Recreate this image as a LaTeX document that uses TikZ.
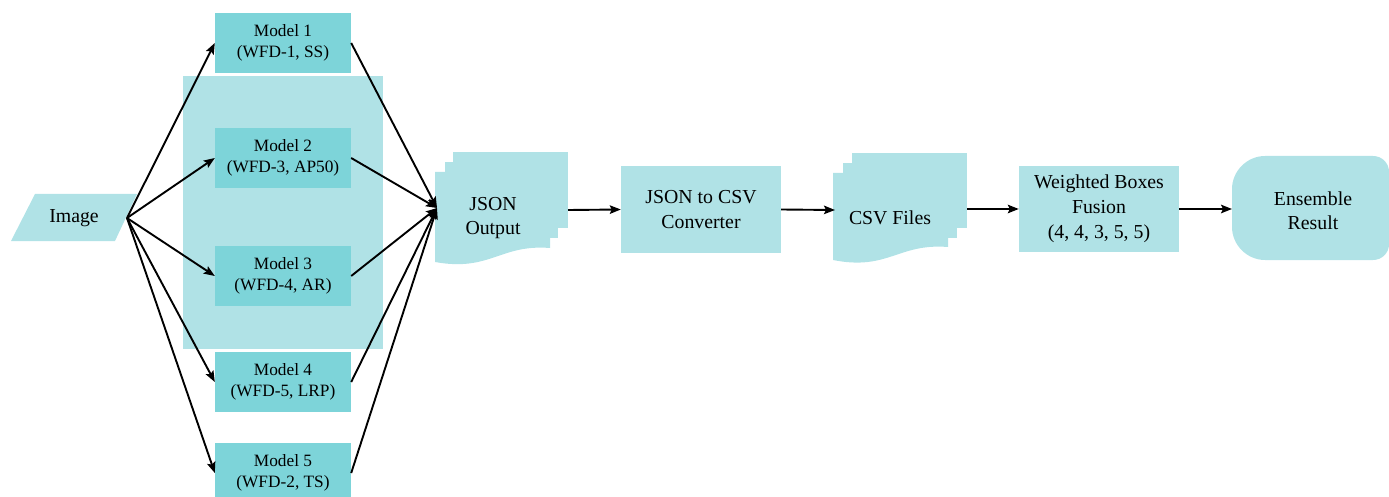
\documentclass[tikz,border=0pt]{standalone}
\usepackage{fontspec}
\setmainfont{LiberationSerif}[Extension=.ttf, UprightFont=*-Regular, BoldFont=*-Bold, ItalicFont=*-Italic, BoldItalicFont=*-BoldItalic]
\usetikzlibrary{arrows.meta}
\definecolor{lightteal}{RGB}{176,226,230}
\definecolor{modelteal}{RGB}{125,212,217}
\tikzset{
  modelbox/.style={fill=modelteal, minimum width=136pt, minimum height=60pt, inner sep=0pt, align=center,
    font=\fontsize{17.3pt}{21pt}\selectfont},
  procbox/.style={fill=lightteal, minimum width=160pt, minimum height=87pt, inner sep=0pt, align=center,
    font=\fontsize{19.8pt}{25pt}\selectfont},
  label/.style={inner sep=0pt, align=center, font=\fontsize{19.8pt}{24pt}\selectfont},
  conn/.style={line width=1.9pt, -{Stealth[length=11pt,width=8.5pt,inset=2pt]}},
}
\begin{document}
\begin{tikzpicture}[x=1pt,y=-1pt]
\useasboundingbox (0,0) rectangle (1389,497);
% background group rectangle
\fill[lightteal] (183,76) rectangle (383,349);
% Image parallelogram
\fill[lightteal] (35,194) -- (137,194) -- (115,241) -- (11,241) -- cycle;
\node[label] (img) at (74,218) {Image};
\coordinate (imgout) at (127,218);
% Models
\node[modelbox] (m1) at (283,43) {Model 1\\(WFD-1, SS)};
\node[modelbox] (m2) at (283,158) {Model 2\\(WFD-3, AP50)};
\node[modelbox] (m3) at (283,276) {Model 3\\(WFD-4, AR)};
\node[modelbox] (m4) at (283,382) {Model 4\\(WFD-5, LRP)};
\node[modelbox] (m5) at (283,473) {Model 5\\(WFD-2, TS)};
% JSON output multi-document
\fill[lightteal] (453,152) rectangle (568,228);
\fill[lightteal] (445,162) rectangle (558,238);
\fill[lightteal] (435,172) -- (550,172) -- (550,248)
   .. controls (500,244) and (490,272) .. (435,262) -- cycle;
\node[label] (json) at (493,218) {JSON\\Output};
\coordinate (jsonin) at (437,208);
\coordinate (jsonout) at (568,210);
% Converter
\node[procbox] (conv) at (701,209.5) {JSON to CSV\\Converter};
% CSV files multi-document
\fill[lightteal] (852,153) rectangle (967,228);
\fill[lightteal] (843,163) rectangle (957,238);
\fill[lightteal] (833,173) -- (948,173) -- (948,247)
   .. controls (898,243) and (888,271) .. (833,260) -- cycle;
\node[label] (csv) at (890,218) {CSV Files};
\coordinate (csvin) at (835,210);
\coordinate (csvout) at (967,209);
% WBF
\node[procbox, minimum height=86pt] (wbf) at (1099,209) {Weighted Boxes\\Fusion\\(4, 4, 3, 5, 5)};
% Ensemble
\fill[lightteal] (1265,156) -- (1373,156) .. controls (1382,156) and (1389,163) .. (1389,172)
  -- (1389,244) .. controls (1389,253) and (1382,260) .. (1373,260)
  -- (1265,260) .. controls (1247,260) and (1232,245) .. (1232,227)
  -- (1232,189) .. controls (1232,171) and (1247,156) .. (1265,156) -- cycle;
\node[label] (ens) at (1313,211) {Ensemble\\Result};
\coordinate (ensin) at (1232,209);
% connectors
\foreach \m in {m1,m2,m3,m4,m5} {
  \draw[conn] (imgout) -- (\m.west);
  \draw[conn] (\m.east) -- (jsonin);
}
\draw[conn] (jsonout) -- (conv.west);
\draw[conn] (conv.east) -- (csvin);
\draw[conn] (csvout) -- (wbf.west);
\draw[conn] (wbf.east) -- (ensin);
\end{tikzpicture}
\end{document}
